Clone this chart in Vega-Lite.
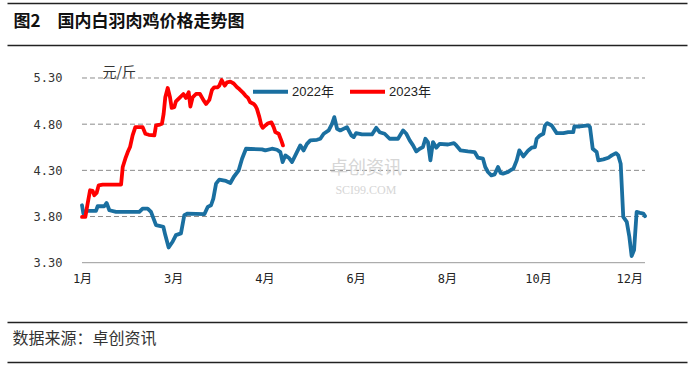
{
  "$schema": "https://vega.github.io/schema/vega-lite/v6.json",
  "width": 680,
  "height": 359,
  "autosize": {"type": "none"},
  "padding": {"left": 7, "top": 3, "right": 5, "bottom": 4},
  "background": "white",
  "config": {
    "view": {"stroke": null},
    "font": "Noto Sans CJK SC",
    "axisX": {"grid": false, "ticks": false, "labels": false, "domain": true, "domainColor": "#222222", "domainWidth": 1.5},
    "axisY": {"grid": false, "ticks": false, "domain": false, "offset": -55, "labelPadding": 0, "labelFont": "DejaVu Sans Mono", "labelFontSize": 12, "labelColor": "#333333", "titleAngle": 0, "titleX": 40, "titleY": 69, "titleAlign": "left", "titleBaseline": "middle", "titleFont": "Noto Sans CJK SC", "titleFontSize": 14, "titleFontWeight": "normal", "titleColor": "#333333"}
  },
  "datasets": {
    "grid": [{"price": 3.3}, {"price": 3.8}, {"price": 4.3}, {"price": 4.8}, {"price": 5.3}],
    "prices": [
      {"year": "2022年", "t": 0, "price": 3.922}, {"year": "2022年", "t": 0.9, "price": 3.832}, {"year": "2022年", "t": 2.6, "price": 3.861}, {"year": "2022年", "t": 9.2, "price": 3.861}, {"year": "2022年", "t": 10.3, "price": 3.911}, {"year": "2022年", "t": 14.7, "price": 3.911}, {"year": "2022年", "t": 16.2, "price": 3.947}, {"year": "2022年", "t": 18, "price": 3.868}, {"year": "2022年", "t": 22.4, "price": 3.85}, {"year": "2022年", "t": 37.7, "price": 3.85}, {"year": "2022年", "t": 39.9, "price": 3.886}, {"year": "2022年", "t": 43.2, "price": 3.886}, {"year": "2022年", "t": 45.4, "price": 3.85}, {"year": "2022年", "t": 48.7, "price": 3.706}, {"year": "2022年", "t": 50.9, "price": 3.699}, {"year": "2022年", "t": 53.5, "price": 3.689}, {"year": "2022年", "t": 54.8, "price": 3.599}, {"year": "2022年", "t": 57, "price": 3.465}, {"year": "2022年", "t": 59.6, "price": 3.527}, {"year": "2022年", "t": 61.8, "price": 3.599}, {"year": "2022年", "t": 65.1, "price": 3.617}, {"year": "2022年", "t": 67.3, "price": 3.814}, {"year": "2022年", "t": 69.5, "price": 3.832}, {"year": "2022年", "t": 80.5, "price": 3.825}, {"year": "2022年", "t": 82.7, "price": 3.904}, {"year": "2022年", "t": 84.9, "price": 3.922}, {"year": "2022年", "t": 86.4, "price": 3.994}, {"year": "2022年", "t": 88.2, "price": 4.156}, {"year": "2022年", "t": 90.3, "price": 4.199}, {"year": "2022年", "t": 94.7, "price": 4.185}, {"year": "2022年", "t": 97.6, "price": 4.163}, {"year": "2022年", "t": 99.8, "price": 4.228}, {"year": "2022年", "t": 103.1, "price": 4.3}, {"year": "2022年", "t": 105.3, "price": 4.426}, {"year": "2022年", "t": 107.9, "price": 4.534}, {"year": "2022年", "t": 118.4, "price": 4.527}, {"year": "2022年", "t": 120.6, "price": 4.516}, {"year": "2022年", "t": 125, "price": 4.534}, {"year": "2022年", "t": 128.3, "price": 4.523}, {"year": "2022年", "t": 130.5, "price": 4.498}, {"year": "2022年", "t": 132, "price": 4.39}, {"year": "2022年", "t": 133.8, "price": 4.462}, {"year": "2022年", "t": 136, "price": 4.437}, {"year": "2022年", "t": 138.2, "price": 4.39}, {"year": "2022年", "t": 141.4, "price": 4.498}, {"year": "2022年", "t": 143.6, "price": 4.57}, {"year": "2022年", "t": 145.8, "price": 4.516}, {"year": "2022年", "t": 148, "price": 4.587}, {"year": "2022年", "t": 150.2, "price": 4.624}, {"year": "2022年", "t": 154.6, "price": 4.631}, {"year": "2022年", "t": 156.8, "price": 4.642}, {"year": "2022年", "t": 159, "price": 4.696}, {"year": "2022年", "t": 162.3, "price": 4.732}, {"year": "2022年", "t": 164.5, "price": 4.804}, {"year": "2022年", "t": 166, "price": 4.876}, {"year": "2022年", "t": 167.8, "price": 4.75}, {"year": "2022年", "t": 169.9, "price": 4.732}, {"year": "2022年", "t": 174.3, "price": 4.768}, {"year": "2022年", "t": 177.2, "price": 4.678}, {"year": "2022年", "t": 178.8, "price": 4.66}, {"year": "2022年", "t": 180.3, "price": 4.703}, {"year": "2022年", "t": 184.2, "price": 4.689}, {"year": "2022年", "t": 190.8, "price": 4.689}, {"year": "2022年", "t": 193.6, "price": 4.76}, {"year": "2022年", "t": 195.8, "price": 4.713}, {"year": "2022年", "t": 199.1, "price": 4.696}, {"year": "2022年", "t": 202.4, "price": 4.642}, {"year": "2022年", "t": 207.9, "price": 4.642}, {"year": "2022年", "t": 211.2, "price": 4.732}, {"year": "2022年", "t": 213.4, "price": 4.696}, {"year": "2022年", "t": 215.6, "price": 4.624}, {"year": "2022年", "t": 217.8, "price": 4.57}, {"year": "2022年", "t": 219.9, "price": 4.505}, {"year": "2022年", "t": 222.2, "price": 4.534}, {"year": "2022年", "t": 224.3, "price": 4.552}, {"year": "2022年", "t": 225.9, "price": 4.642}, {"year": "2022年", "t": 227.6, "price": 4.606}, {"year": "2022年", "t": 229.2, "price": 4.408}, {"year": "2022年", "t": 230.9, "price": 4.606}, {"year": "2022年", "t": 233.1, "price": 4.545}, {"year": "2022年", "t": 235.3, "price": 4.587}, {"year": "2022年", "t": 240.8, "price": 4.58}, {"year": "2022年", "t": 244.7, "price": 4.595}, {"year": "2022年", "t": 246.3, "price": 4.57}, {"year": "2022年", "t": 249.1, "price": 4.516}, {"year": "2022年", "t": 253.9, "price": 4.505}, {"year": "2022年", "t": 258.3, "price": 4.498}, {"year": "2022年", "t": 260.5, "price": 4.437}, {"year": "2022年", "t": 263.8, "price": 4.426}, {"year": "2022年", "t": 265.3, "price": 4.336}, {"year": "2022年", "t": 267.1, "price": 4.282}, {"year": "2022年", "t": 269.3, "price": 4.246}, {"year": "2022年", "t": 271.5, "price": 4.257}, {"year": "2022年", "t": 273.7, "price": 4.336}, {"year": "2022年", "t": 275.4, "price": 4.271}, {"year": "2022年", "t": 277, "price": 4.264}, {"year": "2022年", "t": 280.3, "price": 4.282}, {"year": "2022年", "t": 282.4, "price": 4.307}, {"year": "2022年", "t": 283.8, "price": 4.318}, {"year": "2022年", "t": 286, "price": 4.408}, {"year": "2022年", "t": 287.7, "price": 4.516}, {"year": "2022年", "t": 290.4, "price": 4.451}, {"year": "2022年", "t": 293.6, "price": 4.516}, {"year": "2022年", "t": 295.8, "price": 4.545}, {"year": "2022年", "t": 298, "price": 4.552}, {"year": "2022年", "t": 299.1, "price": 4.642}, {"year": "2022年", "t": 301.3, "price": 4.678}, {"year": "2022年", "t": 303.5, "price": 4.696}, {"year": "2022年", "t": 304.6, "price": 4.786}, {"year": "2022年", "t": 306.1, "price": 4.811}, {"year": "2022年", "t": 309, "price": 4.786}, {"year": "2022年", "t": 312.3, "price": 4.703}, {"year": "2022年", "t": 316.7, "price": 4.703}, {"year": "2022年", "t": 319.9, "price": 4.714}, {"year": "2022年", "t": 323.2, "price": 4.714}, {"year": "2022年", "t": 323.9, "price": 4.775}, {"year": "2022年", "t": 327.6, "price": 4.775}, {"year": "2022年", "t": 333.1, "price": 4.786}, {"year": "2022年", "t": 334.2, "price": 4.768}, {"year": "2022年", "t": 336, "price": 4.534}, {"year": "2022年", "t": 338.6, "price": 4.498}, {"year": "2022年", "t": 339.7, "price": 4.408}, {"year": "2022年", "t": 343, "price": 4.419}, {"year": "2022年", "t": 346.3, "price": 4.437}, {"year": "2022年", "t": 348.5, "price": 4.462}, {"year": "2022年", "t": 351.3, "price": 4.487}, {"year": "2022年", "t": 352.8, "price": 4.462}, {"year": "2022年", "t": 354.4, "price": 4.372}, {"year": "2022年", "t": 356.1, "price": 3.796}, {"year": "2022年", "t": 358.4, "price": 3.742}, {"year": "2022年", "t": 360.1, "price": 3.581}, {"year": "2022年", "t": 361.6, "price": 3.372}, {"year": "2022年", "t": 363.2, "price": 3.437}, {"year": "2022年", "t": 364.9, "price": 3.85}, {"year": "2022年", "t": 367.1, "price": 3.84}, {"year": "2022年", "t": 369.3, "price": 3.832}, {"year": "2022年", "t": 370.4, "price": 3.804},
      {"year": "2023年", "t": 0, "price": 3.796}, {"year": "2023年", "t": 2.2, "price": 3.796}, {"year": "2023年", "t": 3.7, "price": 3.94}, {"year": "2023年", "t": 5.3, "price": 4.084}, {"year": "2023年", "t": 7, "price": 4.077}, {"year": "2023年", "t": 8.1, "price": 4.03}, {"year": "2023年", "t": 9.6, "price": 4.055}, {"year": "2023年", "t": 11, "price": 4.138}, {"year": "2023年", "t": 13.6, "price": 4.145}, {"year": "2023年", "t": 25.7, "price": 4.145}, {"year": "2023年", "t": 26.8, "price": 4.336}, {"year": "2023年", "t": 28.5, "price": 4.426}, {"year": "2023年", "t": 30.1, "price": 4.498}, {"year": "2023年", "t": 31.6, "price": 4.552}, {"year": "2023年", "t": 33.3, "price": 4.678}, {"year": "2023年", "t": 35.1, "price": 4.768}, {"year": "2023年", "t": 39.9, "price": 4.768}, {"year": "2023年", "t": 41.7, "price": 4.696}, {"year": "2023年", "t": 43.9, "price": 4.685}, {"year": "2023年", "t": 47.6, "price": 4.678}, {"year": "2023年", "t": 48.7, "price": 4.786}, {"year": "2023年", "t": 51.3, "price": 4.796}, {"year": "2023年", "t": 52.6, "price": 4.804}, {"year": "2023年", "t": 53.7, "price": 4.912}, {"year": "2023年", "t": 54.8, "price": 5.091}, {"year": "2023年", "t": 56.4, "price": 5.192}, {"year": "2023年", "t": 57.9, "price": 5.091}, {"year": "2023年", "t": 59, "price": 4.976}, {"year": "2023年", "t": 60.7, "price": 4.983}, {"year": "2023年", "t": 61.8, "price": 5.048}, {"year": "2023年", "t": 64.5, "price": 5.091}, {"year": "2023年", "t": 66.7, "price": 5.127}, {"year": "2023年", "t": 68.4, "price": 5.084}, {"year": "2023年", "t": 70.2, "price": 5.145}, {"year": "2023年", "t": 71.3, "price": 4.99}, {"year": "2023年", "t": 72.8, "price": 5.091}, {"year": "2023年", "t": 75, "price": 5.127}, {"year": "2023年", "t": 77.6, "price": 5.127}, {"year": "2023年", "t": 79.8, "price": 5.063}, {"year": "2023年", "t": 81.6, "price": 5.019}, {"year": "2023年", "t": 83.8, "price": 5.063}, {"year": "2023年", "t": 85.5, "price": 5.171}, {"year": "2023年", "t": 87, "price": 5.199}, {"year": "2023年", "t": 89.3, "price": 5.199}, {"year": "2023年", "t": 90.3, "price": 5.217}, {"year": "2023年", "t": 91.9, "price": 5.278}, {"year": "2023年", "t": 93.9, "price": 5.217}, {"year": "2023年", "t": 95.4, "price": 5.253}, {"year": "2023年", "t": 97.6, "price": 5.26}, {"year": "2023年", "t": 99.8, "price": 5.24}, {"year": "2023年", "t": 102, "price": 5.2}, {"year": "2023年", "t": 103.5, "price": 5.18}, {"year": "2023年", "t": 105.7, "price": 5.145}, {"year": "2023年", "t": 107.5, "price": 5.11}, {"year": "2023年", "t": 109.2, "price": 5.084}, {"year": "2023年", "t": 110.7, "price": 5.037}, {"year": "2023年", "t": 113, "price": 5.019}, {"year": "2023年", "t": 114, "price": 5.0}, {"year": "2023年", "t": 115.1, "price": 4.966}, {"year": "2023年", "t": 116.7, "price": 4.876}, {"year": "2023年", "t": 118, "price": 4.786}, {"year": "2023年", "t": 118.9, "price": 4.76}, {"year": "2023年", "t": 120.6, "price": 4.786}, {"year": "2023年", "t": 122.4, "price": 4.81}, {"year": "2023年", "t": 124.6, "price": 4.82}, {"year": "2023年", "t": 126.1, "price": 4.768}, {"year": "2023年", "t": 127.2, "price": 4.714}, {"year": "2023年", "t": 129.4, "price": 4.696}, {"year": "2023年", "t": 131.1, "price": 4.624}, {"year": "2023年", "t": 132.2, "price": 4.57}
    ]
  },
  "resolve": {"scale": {"x": "shared", "y": "shared"}, "axis": {"x": "independent"}},
  "layer": [
    {
      "data": {"name": "grid"},
      "transform": [{"filter": "datum.price > 3.31"}],
      "mark": {"type": "rule", "color": "#8c8c8c", "strokeWidth": 1, "strokeDash": [5, 3]},
      "encoding": {
        "x": {"datum": 0, "type": "quantitative", "scale": {"domain": [-49.34, 398.03], "nice": false, "zero": false},
              "axis": {"orient": "top", "offset": 0, "title": "图2　国内白羽肉鸡价格走势图", "titleX": 6, "titleY": 18, "titleAlign": "left", "titleAnchor": null, "titleBaseline": "middle", "titleFont": "Noto Sans CJK SC", "titleFontSize": 17, "titleFontWeight": "bold", "titleColor": "#111111"}},
        "x2": {"datum": 370.4},
        "y": {"field": "price", "type": "quantitative", "scale": {"domain": [2.2247, 6.1121], "nice": false, "zero": false},
              "axis": {"title": "元/斤", "values": [3.3, 3.8, 4.3, 4.8, 5.3], "format": ".2f"}}
      }
    },
    {
      "data": {"name": "grid"},
      "transform": [{"filter": "datum.price < 3.31"}],
      "mark": {"type": "rule", "color": "#999999", "strokeWidth": 1},
      "encoding": {
        "x": {"datum": 0, "type": "quantitative", "scale": {"domain": [-49.34, 398.03], "nice": false, "zero": false},
              "axis": {"orient": "top", "offset": -42, "title": null}},
        "x2": {"datum": 370.4},
        "y": {"field": "price", "type": "quantitative", "scale": {"domain": [2.2247, 6.1121], "nice": false, "zero": false},
              "axis": {"title": "元/斤", "values": [3.3, 3.8, 4.3, 4.8, 5.3], "format": ".2f"}}
      }
    },
    {
      "data": {"values": [{}]},
      "mark": {"type": "text", "text": "卓创资讯", "fontSize": 18, "font": "Noto Sans CJK SC", "color": "#d6d6d6", "align": "center", "baseline": "middle"},
      "encoding": {
        "x": {"datum": 186.8, "type": "quantitative", "scale": {"domain": [-49.34, 398.03], "nice": false, "zero": false},
              "axis": {"orient": "bottom", "offset": 0, "title": null}},
        "y": {"datum": 4.315, "type": "quantitative", "scale": {"domain": [2.2247, 6.1121], "nice": false, "zero": false},
              "axis": {"title": "元/斤", "values": [3.3, 3.8, 4.3, 4.8, 5.3], "format": ".2f"}}
      }
    },
    {
      "data": {"values": [{}]},
      "mark": {"type": "text", "text": "SCI99.COM", "fontSize": 12, "font": "Liberation Serif", "color": "#d6d6d6", "align": "center", "baseline": "middle"},
      "encoding": {
        "x": {"datum": 186.8, "type": "quantitative", "scale": {"domain": [-49.34, 398.03], "nice": false, "zero": false},
              "axis": null},
        "y": {"datum": 4.09, "type": "quantitative", "scale": {"domain": [2.2247, 6.1121], "nice": false, "zero": false},
              "axis": {"title": "元/斤", "values": [3.3, 3.8, 4.3, 4.8, 5.3], "format": ".2f"}}
      }
    },
    {
      "data": {"name": "prices"},
      "transform": [{"filter": "datum.year == '2022年'"}],
      "mark": {"type": "line", "strokeWidth": 3.8, "strokeJoin": "round", "strokeCap": "round"},
      "encoding": {
        "x": {"field": "t", "type": "quantitative", "scale": {"domain": [-49.34, 398.03], "nice": false, "zero": false},
              "axis": {"orient": "bottom", "offset": -99, "title": null, "domain": false, "labels": true, "values": [0, 60, 120, 180, 240, 300, 360], "labelExpr": "['1月','3月','4月','6月','8月','10月','12月'][round(datum.value / 60)]", "labelPadding": 10, "labelFont": "DejaVu Sans Mono, Noto Sans CJK SC", "labelFontSize": 12, "labelColor": "#222222"}},
        "y": {"field": "price", "type": "quantitative", "scale": {"domain": [2.2247, 6.1121], "nice": false, "zero": false},
              "axis": {"title": "元/斤", "values": [3.3, 3.8, 4.3, 4.8, 5.3], "format": ".2f"}},
        "color": {"field": "year", "type": "nominal", "scale": {"domain": ["2022年", "2023年"], "range": ["#1A6FA0", "#FF0000"]},
                  "legend": {"title": null, "orient": "none", "legendX": 244, "legendY": 69, "direction": "horizontal", "symbolType": "stroke", "symbolSize": 1225, "symbolStrokeWidth": 4, "labelFont": "Liberation Sans, Noto Sans CJK SC", "labelFontSize": 13, "labelColor": "#222222", "labelOffset": 2, "columnPadding": 8}}
      }
    },
    {
      "data": {"name": "prices"},
      "transform": [{"filter": "datum.year == '2023年'"}],
      "mark": {"type": "line", "strokeWidth": 3.8, "strokeJoin": "round", "strokeCap": "round"},
      "encoding": {
        "x": {"field": "t", "type": "quantitative", "scale": {"domain": [-49.34, 398.03], "nice": false, "zero": false},
              "axis": {"orient": "bottom", "offset": -40, "title": "数据来源：卓创资讯", "titleX": 5, "titleY": 16, "titleAlign": "left", "titleAnchor": null, "titleBaseline": "middle", "titleFont": "Noto Sans CJK SC", "titleFontSize": 16, "titleFontWeight": "normal", "titleColor": "#333333"}},
        "y": {"field": "price", "type": "quantitative", "scale": {"domain": [2.2247, 6.1121], "nice": false, "zero": false},
              "axis": {"title": "元/斤", "values": [3.3, 3.8, 4.3, 4.8, 5.3], "format": ".2f"}},
        "color": {"field": "year", "type": "nominal", "scale": {"domain": ["2022年", "2023年"], "range": ["#1A6FA0", "#FF0000"]},
                  "legend": {"title": null, "orient": "none", "legendX": 244, "legendY": 69, "direction": "horizontal", "symbolType": "stroke", "symbolSize": 1225, "symbolStrokeWidth": 4, "labelFont": "Liberation Sans, Noto Sans CJK SC", "labelFontSize": 13, "labelColor": "#222222", "labelOffset": 2, "columnPadding": 8}}
      }
    }
  ]
}
